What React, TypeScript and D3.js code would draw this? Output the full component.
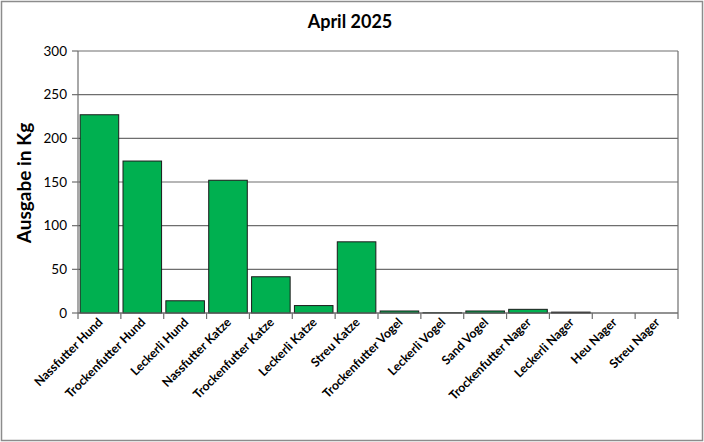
import React from "react";
import * as d3 from "d3";

const categories: string[] = [
  "Nassfutter Hund",
  "Trockenfutter Hund",
  "Leckerli Hund",
  "Nassfutter Katze",
  "Trockenfutter Katze",
  "Leckerli Katze",
  "Streu Katze",
  "Trockenfutter Vogel",
  "Leckerli Vogel",
  "Sand Vogel",
  "Trockenfutter Nager",
  "Leckerli Nager",
  "Heu Nager",
  "Streu Nager",
];
const values: number[] = [227, 174, 14, 152, 41.5, 8.5, 81.5, 2.3, 0.3, 2.3, 4.2, 1, 0, 0];
const yTicks: number[] = [0, 50, 100, 150, 200, 250, 300];
const title = "April 2025";
const yLabel = "Ausgabe in Kg";

const W = 704;
const H = 442;
const FONT = "Lato, 'Open Sans', sans-serif";

export default function App() {
  const left = 78;
  const right = 678;
  const top = 51;
  const bottom = 313;
  const x = d3.scaleBand<string>().domain(categories).range([left, right]).paddingInner(0.1).paddingOuter(0.05);
  const xs = d3.scaleBand<string>().domain(categories).range([left, right]);
  const y = d3.scaleLinear().domain([0, 300]).range([bottom, top]);

  return (
    <svg width={W} height={H} style={{ position: "absolute", left: 0, top: 0, fontFamily: FONT }}>
      <rect x={0} y={0} width={W} height={H} fill="#fff" />
      <rect x={1.5} y={1.5} width={701} height={439} fill="none" stroke="#8c8c8c" strokeWidth={1.5} />
      <text x={350} y={28} textAnchor="middle" fontSize={18} fontWeight="bold" fill="#000">
        {title}
      </text>
      {/* gridlines */}
      {yTicks.map((t) => (
        <line key={"g" + t} x1={left} x2={right} y1={y(t)} y2={y(t)} stroke="#6e6e6e" strokeWidth={1.2} />
      ))}
      <line x1={right} x2={right} y1={top} y2={bottom} stroke="#6e6e6e" strokeWidth={1.2} />
      {/* bars */}
      {categories.map((c, i) => (
        <rect
          key={c}
          x={x(c)}
          y={y(values[i])}
          width={x.bandwidth()}
          height={bottom - y(values[i])}
          fill="#00B050"
          stroke="#1a1a1a"
          strokeWidth={1}
        />
      ))}
      {/* y axis */}
      <line x1={left} x2={left} y1={top} y2={bottom} stroke="#6e6e6e" strokeWidth={1.2} />
      {yTicks.map((t) => (
        <g key={"t" + t}>
          <line x1={left - 6} x2={left} y1={y(t)} y2={y(t)} stroke="#6e6e6e" strokeWidth={1.2} />
          <text x={left - 11} y={y(t) + 4.5} textAnchor="end" fontSize={13.5} fill="#000">
            {t}
          </text>
        </g>
      ))}
      <text
        transform={`translate(31,${(top + bottom) / 2 + 1}) rotate(-90)`}
        textAnchor="middle"
        fontSize={19}
        fontWeight="bold"
        fill="#000"
      >
        {yLabel}
      </text>
      {/* x axis */}
      <line x1={left} x2={right} y1={bottom} y2={bottom} stroke="#6e6e6e" strokeWidth={1.2} />
      {categories.map((c) => (
        <line key={"xt" + c} x1={xs(c)} x2={xs(c)} y1={bottom} y2={bottom + 6} stroke="#6e6e6e" strokeWidth={1.2} />
      ))}
      <line x1={right} x2={right} y1={bottom} y2={bottom + 6} stroke="#6e6e6e" strokeWidth={1.2} />
      {categories.map((c) => {
        const cx = (xs(c) as number) + xs.bandwidth() / 2 + 4;
        const cy = bottom + 10;
        return (
          <text
            key={"l" + c}
            transform={`translate(${cx},${cy}) rotate(-45)`}
            textAnchor="end"
            fontSize={12.3}
            fontWeight="bold"
            fill="#000"
          >
            {c}
          </text>
        );
      })}
    </svg>
  );
}
